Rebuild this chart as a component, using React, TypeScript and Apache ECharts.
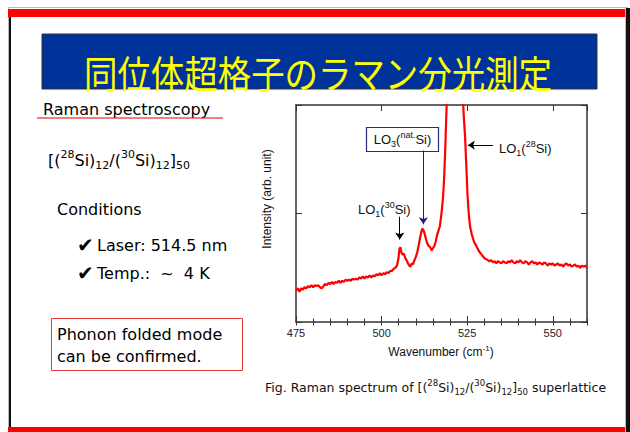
import React, { useEffect, useRef } from "react";
import * as echarts from "echarts";

// ---- Data ----
const wavenumber = [
  475.0, 475.5, 476.0, 476.5, 477.0, 477.5, 478.0, 478.5, 479.0, 479.5,
  480.0, 480.5, 481.0, 481.5, 482.0, 482.5, 483.0, 483.5, 484.0, 484.5,
  485.0, 485.5, 486.0, 486.5, 487.0, 487.5, 488.0, 488.5, 489.0, 489.5,
  490.0, 490.5, 491.0, 491.5, 492.0, 492.5, 493.0, 493.5, 494.0, 494.5,
  495.0, 495.5, 496.0, 496.5, 497.0, 497.5, 498.0, 498.5, 499.0, 499.5,
  500.0, 500.5, 501.0, 501.5, 502.0, 502.5, 503.0, 503.5, 504.0, 504.5,
  504.9, 505.2, 505.5, 505.8, 506.1, 506.5, 506.9, 507.3, 507.7, 508.1,
  508.4, 508.8, 509.2, 509.6, 510.0, 510.4, 510.8, 511.2, 511.6, 511.9,
  512.2, 512.6, 513.0, 513.4, 513.8, 514.2, 514.6, 515.0, 515.4, 515.8,
  516.2, 516.6, 517.0, 517.3, 517.6, 518.0, 518.3, 518.6, 518.9, 519.2,
  519.6, 520.0, 520.5, 521.0, 521.4, 521.8, 522.3, 522.8, 523.3, 523.7,
  524.0, 524.4, 524.8, 525.1, 525.5, 525.9, 526.4, 527.0, 527.5, 528.0,
  528.5, 529.0, 529.5, 530.0, 530.5, 531.0, 531.5, 532.0, 532.5, 533.0,
  533.5, 534.0, 534.5, 535.0, 535.5, 536.0, 536.5, 537.0, 537.5, 538.0,
  538.5, 539.0, 539.5, 540.0, 540.5, 541.0, 541.5, 542.0, 542.5, 543.0,
  543.5, 544.0, 544.5, 545.0, 545.5, 546.0, 546.5, 547.0, 547.5, 548.0,
  548.5, 549.0, 549.5, 550.0, 550.5, 551.0, 551.5, 552.0, 552.5, 553.0,
  553.5, 554.0, 554.5, 555.0, 555.5, 556.0, 556.5, 557.0, 557.5, 558.0,
  558.5, 559.0, 559.5, 560.0,
];

const intensity = [
  0.29, 0.31, 0.28, 0.31, 0.30, 0.32, 0.31, 0.33, 0.32, 0.34,
  0.32, 0.34, 0.33, 0.34, 0.32, 0.31, 0.33, 0.35, 0.34, 0.36,
  0.35, 0.37, 0.35, 0.37, 0.36, 0.38, 0.36, 0.38, 0.37, 0.39,
  0.38, 0.39, 0.38, 0.40, 0.39, 0.40, 0.39, 0.41, 0.40, 0.42,
  0.40, 0.42, 0.41, 0.43, 0.41, 0.43, 0.42, 0.44, 0.43, 0.45,
  0.43, 0.45, 0.44, 0.46, 0.45, 0.47, 0.47, 0.49, 0.50, 0.52,
  0.58, 0.67, 0.69, 0.64, 0.62, 0.63, 0.59, 0.57, 0.54, 0.52,
  0.51, 0.54, 0.53, 0.57, 0.60, 0.64, 0.70, 0.77, 0.83, 0.86,
  0.85, 0.81, 0.76, 0.72, 0.70, 0.69, 0.66, 0.68, 0.70, 0.74,
  0.80, 0.84, 0.88, 0.95, 1.03, 1.17, 1.35, 1.60, 1.90, 2.20,
  2.80, 3.60, 4.60, 5.30, 5.50, 5.30, 4.50, 3.50, 2.60, 2.10,
  1.90, 1.70, 1.40, 1.17, 0.98, 0.87, 0.80, 0.74, 0.71, 0.68,
  0.65, 0.63, 0.61, 0.59, 0.58, 0.57, 0.56, 0.57, 0.55, 0.56,
  0.54, 0.56, 0.55, 0.54, 0.56, 0.55, 0.54, 0.56, 0.55, 0.57,
  0.55, 0.54, 0.56, 0.55, 0.57, 0.55, 0.54, 0.56, 0.55, 0.53,
  0.55, 0.56, 0.54, 0.55, 0.53, 0.55, 0.54, 0.53, 0.55, 0.54,
  0.52, 0.54, 0.53, 0.54, 0.52, 0.53, 0.54, 0.52, 0.53, 0.51,
  0.53, 0.54, 0.52, 0.53, 0.51, 0.52, 0.53, 0.51, 0.52, 0.50,
  0.52, 0.51, 0.52, 0.50,
];

const X_MIN = 475;
const X_MAX = 560;
const X_MAJOR = 25;
const X_MINOR = 5;
const Y_MIN = 0;
const Y_MAX = 2;
const Y_STEP = 1;

// annotation arrows (data coordinates: [wavenumber, intensity])
const arrowLO1_30 = [[505.3, 0.97], [505.3, 0.76]];
const arrowLO3 = [[512.2, 1.58], [512.2, 0.9]];
const arrowLO1_28 = [[532.5, 1.63], [525.2, 1.63]];

const TITLE = "同位体超格子のラマン分光測定";
const F = "'DejaVu Sans', sans-serif";
const A = "'Liberation Sans', Arial, sans-serif";

function rich(base: number, small: number, family: string, lh: number, fill: string) {
  return {
    n: { fontSize: base, fontFamily: family, lineHeight: lh, fill },
    sup: { fontSize: small, fontFamily: family, verticalAlign: "top", fill },
    sub: { fontSize: small, fontFamily: family, verticalAlign: "bottom", fill },
  };
}

function txt(x: number, y: number, text: string, size: number, family = F, extra: any = {}) {
  return {
    type: "text",
    x,
    y,
    style: {
      text,
      font: `${size}px ${family}`,
      fill: "#000",
      align: "left",
      verticalAlign: "middle",
      ...extra,
    },
  };
}

function richTxt(x: number, y: number, text: string, r: any, align = "left") {
  return {
    type: "text",
    x,
    y,
    style: { text, rich: r, align, verticalAlign: "middle" },
  };
}

export default function App() {
  const ref = useRef<HTMLDivElement>(null);
  useEffect(() => {
    if (!ref.current) return;
    const chart = echarts.init(ref.current, null, { renderer: "svg" });
    const data = wavenumber.map((w, i) => [w, intensity[i]]);
    const axisColor = "#333";
    const xBase = {
      type: "value",
      min: X_MIN,
      max: X_MAX,
      gridIndex: 0,
      splitLine: { show: false },
      axisLine: { show: true, onZero: false, lineStyle: { color: axisColor, width: 1.5 } },
    };
    const yBase = {
      type: "value",
      min: Y_MIN,
      max: Y_MAX,
      interval: Y_STEP,
      splitLine: { show: false },
      axisLabel: { show: false },
      axisLine: { show: true, onZero: false, lineStyle: { color: axisColor, width: 1.5 } },
      axisTick: { show: true, inside: true, length: 6, lineStyle: { color: axisColor } },
    };
    const option: any = {
      animation: false,
      backgroundColor: "#fff",
      grid: { left: 296, top: 105, width: 291, height: 217, containLabel: false },
      xAxis: [
        {
          ...xBase,
          position: "bottom",
          interval: X_MAJOR,
          axisTick: { show: true, inside: true, length: 6, lineStyle: { color: axisColor } },
          axisLabel: {
            show: true,
            margin: 5,
            fontSize: 11,
            fontFamily: A,
            color: "#222",
            showMaxLabel: false,
          },
        },
        {
          ...xBase,
          position: "bottom",
          interval: X_MINOR,
          axisLine: { show: false },
          axisLabel: { show: false },
          axisTick: { show: true, inside: true, length: 3.5, lineStyle: { color: axisColor } },
        },
        {
          ...xBase,
          position: "top",
          interval: X_MAJOR,
          axisLabel: { show: false },
          axisTick: { show: true, inside: true, length: 6, lineStyle: { color: axisColor } },
        },
        {
          ...xBase,
          position: "top",
          interval: X_MINOR,
          axisLine: { show: false },
          axisLabel: { show: false },
          axisTick: { show: true, inside: true, length: 3.5, lineStyle: { color: axisColor } },
        },
      ],
      yAxis: [
        { ...yBase, position: "left" },
        { ...yBase, position: "right" },
      ],
      series: [
        {
          type: "line",
          xAxisIndex: 0,
          yAxisIndex: 0,
          data,
          showSymbol: false,
          symbol: "none",
          clip: true,
          lineStyle: { color: "#ff0000", width: 2.2 },
          itemStyle: { color: "#ff0000" },
          markLine: {
            silent: true,
            symbol: ["none", "arrow"],
            symbolSize: 7,
            label: { show: false },
            lineStyle: { type: "solid", width: 1, color: "#000" },
            data: [
              [
                { coord: arrowLO1_30[0], lineStyle: { color: "#000", type: "solid", width: 1 } },
                { coord: arrowLO1_30[1] },
              ],
              [
                { coord: arrowLO3[0], lineStyle: { color: "#1f1f80", type: "solid", width: 1 } },
                { coord: arrowLO3[1] },
              ],
              [
                { coord: arrowLO1_28[0], lineStyle: { color: "#000", type: "solid", width: 1 } },
                { coord: arrowLO1_28[1] },
              ],
            ],
          },
        },
      ],
      graphic: [
        // slide frame
        { type: "rect", shape: { x: 8, y: 7, width: 620, height: 1 }, style: { fill: "#bbb" } },
        { type: "rect", shape: { x: 8, y: 8, width: 1, height: 424 }, style: { fill: "#bbb" } },
        { type: "rect", shape: { x: 9, y: 9, width: 2, height: 423 }, style: { fill: "#111" } },
        { type: "rect", shape: { x: 625, y: 8, width: 1, height: 424 }, style: { fill: "#bbb" } },
        { type: "rect", shape: { x: 626, y: 8, width: 4, height: 424 }, style: { fill: "#111" } },
        { type: "rect", shape: { x: 8, y: 9, width: 617, height: 8 }, style: { fill: "#ff0000" } },
        { type: "rect", shape: { x: 8, y: 427, width: 617, height: 5 }, style: { fill: "#ff0000" } },
        // title
        {
          type: "rect",
          shape: { x: 42, y: 34, width: 555, height: 55 },
          style: { fill: "#003399", stroke: "#333", lineWidth: 1 },
        },
        {
          type: "text",
          x: 318,
          y: 71,
          scaleX: 0.88,
          style: {
            text: TITLE,
            font: "38px 'Noto Sans CJK JP'",
            fill: "#ffff00",
            align: "center",
            verticalAlign: "middle",
          },
        },
        // left column
        txt(43, 109, "Raman spectroscopy", 16),
        { type: "line", shape: { x1: 37, y1: 118, x2: 223, y2: 118 }, style: { stroke: "#e00000", lineWidth: 1 } },
        richTxt(48, 160, "{n|[(}{sup|28}{n|Si)}{sub|12}{n|/(}{sup|30}{n|Si)}{sub|12}{n|]}{sub|50}", rich(16, 11, F, 22, "#000")),
        txt(57, 209, "Conditions", 16),
        txt(77, 245, "✔", 20),
        txt(97, 245, "Laser: 514.5 nm", 16),
        txt(77, 273, "✔", 20),
        txt(97, 273, "Temp.:  ~  4 K", 16),
        {
          type: "rect",
          shape: { x: 51.5, y: 318.5, width: 191, height: 52 },
          style: { fill: "none", stroke: "#e83a3a", lineWidth: 1 },
        },
        txt(57, 334, "Phonon folded mode", 16),
        txt(57, 356, "can be confirmed.", 16),
        // axis titles
        {
          type: "text",
          x: 267,
          y: 199,
          rotation: Math.PI / 2,
          style: {
            text: "Intensity (arb. unit)",
            font: `12px ${A}`,
            fill: "#111",
            align: "center",
            verticalAlign: "middle",
          },
        },
        richTxt(441, 352, "{n|Wavenumber (cm}{sup|-1}{n|)}", rich(12, 8, A, 16, "#111"), "center"),
        // annotations
        richTxt(358, 209, "{n|LO}{sub|1}{n|(}{sup|30}{n|Si)}", rich(13, 9, A, 18, "#111")),
        {
          type: "rect",
          shape: { x: 366.5, y: 127.5, width: 72, height: 24 },
          style: { fill: "#fff", stroke: "#2a2a80", lineWidth: 1.2 },
        },
        richTxt(402.5, 139.5, "{n|LO}{sub|3}{n|(}{sup|nat.}{n|Si)}", rich(13, 9, A, 18, "#111"), "center"),
        richTxt(499, 148, "{n|LO}{sub|1}{n|(}{sup|28}{n|Si)}", rich(13, 9, A, 18, "#111")),
        // caption
        richTxt(
          265,
          387,
          "{n|Fig. Raman spectrum of [(}{sup|28}{n|Si)}{sub|12}{n|/(}{sup|30}{n|Si)}{sub|12}{n|]}{sub|50}{n| superlattice}",
          rich(12.5, 8.5, F, 18, "#111")
        ),
      ],
    };
    chart.setOption(option);
    return () => chart.dispose();
  }, []);
  return (
    <div
      ref={ref}
      style={{ position: "fixed", left: 0, top: 0, width: 630, height: 432, background: "#fff" }}
    />
  );
}
